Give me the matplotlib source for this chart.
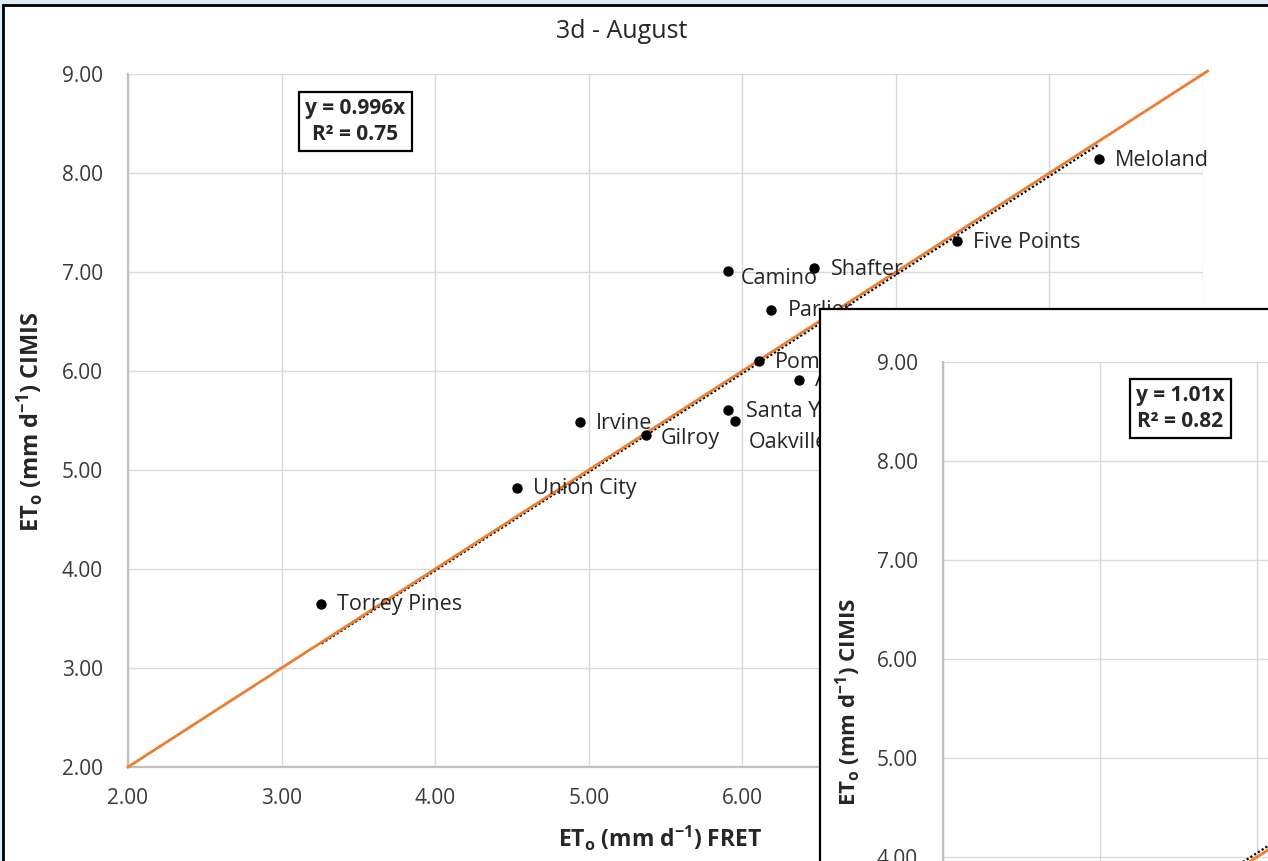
import matplotlib
matplotlib.use('Agg')
import matplotlib.pyplot as plt
from matplotlib.patches import Rectangle

plt.rcParams['font.family'] = ['Open Sans', 'DejaVu Sans']
plt.rcParams['mathtext.fontset'] = 'custom'
plt.rcParams['mathtext.rm'] = 'Open Sans'
plt.rcParams['mathtext.it'] = 'Open Sans:italic'
plt.rcParams['mathtext.bf'] = 'Open Sans:bold'

W, H = 1268, 861

# Стации и значения ETo (FRET против CIMIS), август
stations = ['Torrey Pines', 'Union City', 'Irvine', 'Gilroy', 'Santa Ynez', 'Oakville',
            'Camino', 'Shafter', 'Parlier', 'Pomona', 'Arroyo Seco', 'Five Points', 'Meloland']
fret = [3.26, 4.53, 4.94, 5.37, 5.91, 5.95, 5.91, 6.47, 6.19, 6.11, 6.37, 7.40, 8.32]
cimis = [3.65, 4.82, 5.48, 5.35, 5.61, 5.49, 7.01, 7.04, 6.62, 6.10, 5.91, 7.31, 8.14]

slope = 0.996
r2 = 0.75
# второй график (перекрыт, видна только часть)
inset_slope = 1.01
inset_r2 = 0.82
inset_fit_x = [3.3, 8.3]

ticks = [2, 3, 4, 5, 6, 7, 8, 9]
one_to_one = [2.0, 9.03]

orange = '#ED7D31'
grid_c = '#D9D9D9'
axis_c = '#BFBFBF'
txt_c = '#262626'

fig = plt.figure(figsize=(W / 100, H / 100), dpi=100)
fig.patch.set_facecolor('#DDEBF7')
fig.patches.append(Rectangle((3 / W, -0.05), 1.1, (H - 5) / H + 0.05, transform=fig.transFigure,
                             facecolor='white', edgecolor='black', lw=2, zorder=-1))


def style_axes(a):
    a.set_xlim(2, 9)
    a.set_ylim(2, 9)
    a.set_xticks(ticks)
    a.set_yticks(ticks)
    a.set_xticklabels([f'{t:.2f}' for t in ticks])
    a.set_yticklabels([f'{t:.2f}' for t in ticks])
    a.tick_params(length=0, labelsize=15, colors='#3a3a3a')
    a.tick_params(axis='x', pad=15)
    a.tick_params(axis='y', pad=18)
    a.grid(True, color=grid_c, lw=1)
    a.set_axisbelow(True)
    for s in ['top', 'right']:
        a.spines[s].set_visible(False)
    for s in ['left', 'bottom']:
        a.spines[s].set_color(axis_c)
        a.spines[s].set_linewidth(1.6)


# основной график
ax = fig.add_axes([128 / W, (H - 767) / H, (1203 - 128) / W, (767 - 74) / H])
style_axes(ax)
ax.set_facecolor('none')

fx = [min(fret), max(fret)]
ax.plot(fx, [slope * v for v in fx], color='black', ls=(0, (1, 1)), lw=1.6, zorder=2)
ax.plot(one_to_one, one_to_one, color=orange, lw=2, zorder=3, clip_on=False)
ax.scatter(fret, cimis, s=42, color='black', zorder=4)

offsets = {'Camino': (12, -7), 'Oakville': (14, -21), 'Gilroy': (15, -3), 'Santa Ynez': (18, -2)}
for name, x, y in zip(stations, fret, cimis):
    dx, dy = offsets.get(name, (16, -1))
    ax.annotate(name, (x, y), xytext=(dx, dy), textcoords='offset pixels',
                ha='left', va='center', fontsize=15.5, color=txt_c, zorder=5)

ax.text(3.48, 8.52, f'y = {slope}x\nR² = {r2}', ha='center', va='center', fontsize=15,
        fontweight='bold', color=txt_c, linespacing=1.3,
        bbox=dict(boxstyle='square,pad=0.3', fc='white', ec='black', lw=1.6))

fig.text(622 / W, 1 - 31 / H, '3d - August', ha='center', va='center', fontsize=18, color=txt_c)
fig.text(660 / W, 1 - 838 / H, r'$\mathbf{ET_o}$ (mm d$^{\mathbf{-1}}$) FRET', ha='center', va='center',
         fontsize=16.5, fontweight='bold', color=txt_c)
fig.text(30 / W, 1 - 422 / H, r'$\mathbf{ET_o}$ (mm d$^{\mathbf{-1}}$) CIMIS', ha='center', va='center',
         rotation=90, fontsize=17, fontweight='bold', color=txt_c)

# перекрывающая панель второго графика
panel = fig.add_axes([820 / W, -0.1, 1.0, (H - 309) / H + 0.1], zorder=5)
panel.set_facecolor('white')
panel.set_xticks([])
panel.set_yticks([])
for s in panel.spines.values():
    s.set_color('black')
    s.set_linewidth(1.6)

top = (H - 362) / H
ax2 = fig.add_axes([943 / W, top - 7 * 99 / H, 7 * 157 / W, 7 * 99 / H], zorder=6)
style_axes(ax2)
ax2.set_facecolor('none')
ax2.plot(inset_fit_x, [inset_slope * v for v in inset_fit_x], color='black', ls=(0, (1, 1)), lw=1.6, zorder=2)
ax2.plot(one_to_one, one_to_one, color=orange, lw=2, zorder=3)
ax2.text(3.51, 8.53, f'y = {inset_slope}x\nR² = {inset_r2}', ha='center', va='center', fontsize=15,
         fontweight='bold', color=txt_c, linespacing=1.3,
         bbox=dict(boxstyle='square,pad=0.3', fc='white', ec='black', lw=1.6))
fig.text(848 / W, 1 - 702 / H, r'$\mathbf{ET_o}$ (mm d$^{\mathbf{-1}}$) CIMIS', ha='center', va='center',
         rotation=90, fontsize=16, fontweight='bold', color=txt_c, zorder=10)

fig.savefig('out.png', dpi=100, facecolor=fig.get_facecolor())
